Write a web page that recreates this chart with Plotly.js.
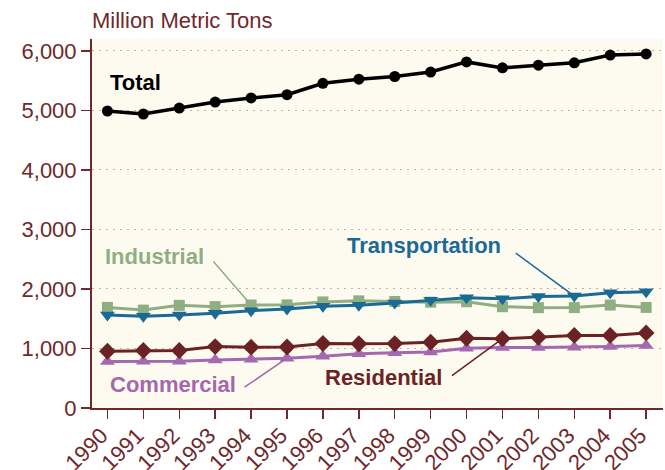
<!DOCTYPE html>
<html>
<head>
<meta charset="utf-8">
<script src="https://cdn.plot.ly/plotly-3.0.1.min.js"></script>
<style>html,body{margin:0;padding:0;background:#fff;}#chart{width:665px;height:470px;}</style>
</head>
<body>
<div id="chart"></div>
<script>
const years = [1990,1991,1992,1993,1994,1995,1996,1997,1998,1999,2000,2001,2002,2003,2004,2005];
const total = [4990,4940,5040,5140,5210,5265,5455,5525,5570,5645,5815,5715,5760,5800,5930,5950];
const industrial = [1690,1645,1725,1703,1731,1733,1782,1800,1790,1778,1785,1702,1686,1687,1730,1690];
const transportation = [1562,1540,1562,1590,1635,1663,1708,1726,1763,1809,1852,1834,1872,1881,1935,1955];
const residential = [954,966,966,1032,1022,1026,1083,1080,1082,1105,1172,1165,1190,1220,1220,1262];
const commercial = [782,786,786,806,818,836,868,910,928,940,1005,1018,1016,1020,1032,1050];
const yTicks = [0,1000,2000,3000,4000,5000,6000];

const maroon = '#70282b';
const cGreen = '#8fae82', cBlue = '#1b6a96', cRes = '#6b2225', cCom = '#a468ae';
const fontFam = 'Liberation Sans, Arial, sans-serif';

function series(y, color, symbol, size, width) {
  return {x: years, y: y, type: 'scatter', mode: 'lines+markers',
    line: {color: color, width: width},
    marker: {color: color, symbol: symbol, size: size},
    hoverinfo: 'skip', showlegend: false, cliponaxis: false};
}

const data = [
  series(commercial, cCom, 'triangle-up', 13, 3),
  series(residential, cRes, 'diamond', 13, 3),
  series(industrial, cGreen, 'square', 11, 3),
  series(transportation, cBlue, 'triangle-down', 13, 3),
  series(total, '#000000', 'circle', 11, 3.5)
];

function label(text, x, y, color) {
  return {x: x, y: y, xref: 'x', yref: 'y', text: '<b>' + text + '</b>', showarrow: false,
    xanchor: 'left', yanchor: 'middle', font: {family: fontFam, size: 22, color: color}};
}
function leader(i, arr, ax, ay, color) {
  return {x: years[i], y: arr[i], xref: 'x', yref: 'y', text: '', showarrow: true,
    arrowhead: 0, arrowwidth: 1.5, arrowcolor: color, ax: ax, ay: ay, standoff: 0, startstandoff: 0};
}

const annotations = [
  label('Total', 1990.02, 5462, '#000000'),
  label('Industrial', 1989.88, 2538, cGreen),
  label('Transportation', 1996.62, 2723, cBlue),
  label('Residential', 1996.0, 520, cRes),
  label('Commercial', 1990.02, 390, cCom),
  leader(4, industrial, -39, -45, cGreen),
  leader(13, transportation, -60, -44, cBlue),
  leader(11, residential, -52, 38, cRes),
  leader(5, commercial, -44, 30, cCom),
  {xref: 'paper', yref: 'paper', x: 0, y: 1.0, xanchor: 'left', yanchor: 'bottom',
   text: 'Million Metric Tons', showarrow: false, xshift: -2, yshift: 4,
   font: {family: fontFam, size: 22, color: maroon}}
];

const layout = {
  width: 665, height: 470,
  margin: {l: 92, r: 2, t: 39, b: 62},
  paper_bgcolor: '#ffffff',
  plot_bgcolor: '#fdfbf0',
  showlegend: false,
  font: {family: fontFam, color: maroon, size: 22},
  xaxis: {
    range: [1989.57, 2005.47], tickvals: years, ticktext: years.map(String),
    tickangle: -45, ticks: 'outside', ticklen: 9, tickwidth: 1.5, tickcolor: maroon,
    ticklabelstandoff: -5, ticklabelshift: -6,
    showline: true, linecolor: maroon, linewidth: 2, showgrid: false, zeroline: false,
    tickfont: {family: fontFam, size: 22, color: maroon}
  },
  yaxis: {
    range: [0, 6200], tickvals: yTicks, tickformat: ',d',
    ticks: 'outside', ticklen: 9, tickwidth: 1.5, tickcolor: maroon,
    showline: true, linecolor: maroon, linewidth: 2,
    showgrid: true, gridcolor: '#d2a8a6', gridwidth: 1, griddash: '2px,5px',
    zeroline: false,
    tickfont: {family: fontFam, size: 22, color: maroon}
  },
  annotations: annotations
};

Plotly.newPlot('chart', data, layout, {staticPlot: true, displayModeBar: false});
</script>
</body>
</html>
